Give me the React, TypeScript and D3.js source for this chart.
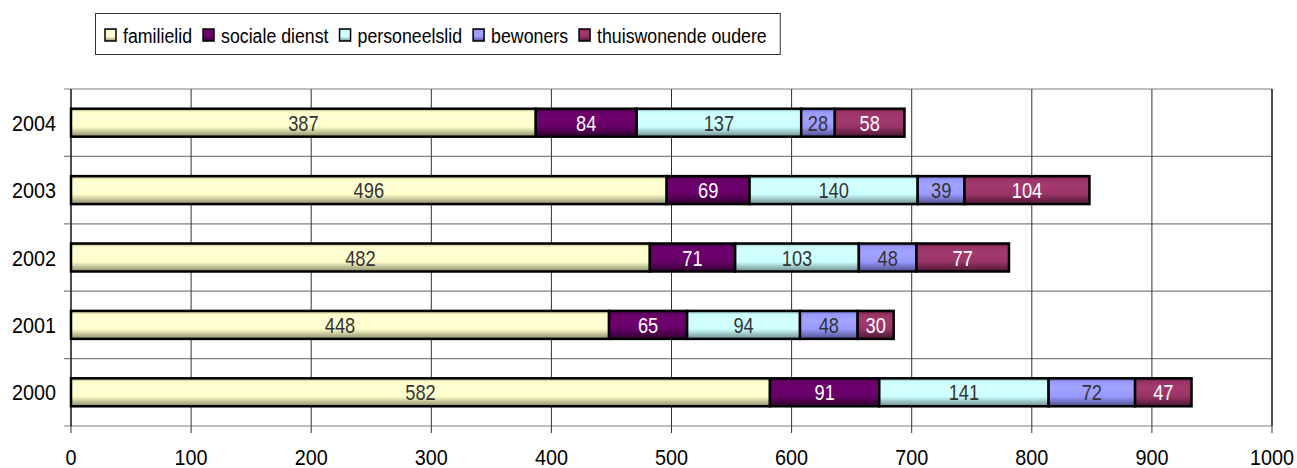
import React, { useMemo } from "react";
import * as d3 from "d3";

// Yearly counts per source category, stacked left to right
const years = ["2004", "2003", "2002", "2001", "2000"];
const seriesNames = ["familielid", "sociale dienst", "personeelslid", "bewoners", "thuiswonende oudere"];
const familielid = [387, 496, 482, 448, 582];
const socialeDienst = [84, 69, 71, 65, 91];
const personeelslid = [137, 140, 103, 94, 141];
const bewoners = [28, 39, 48, 48, 72];
const thuiswonendeOudere = [58, 104, 77, 30, 47];
const xTicks = [0, 100, 200, 300, 400, 500, 600, 700, 800, 900, 1000];

const seriesValues = [familielid, socialeDienst, personeelslid, bewoners, thuiswonendeOudere];

// fill base, top shade, highlight, bottom shade, label colour
const palette = [
  { base: "#FFFFCC", top: "#A3A37E", hi: "#FFFFD4", bot: "#8A8A68", label: "#333333" },
  { base: "#660066", top: "#3A003A", hi: "#700070", bot: "#2E002E", label: "#FFFFFF" },
  { base: "#CCFFFF", top: "#85A6A6", hi: "#D4FFFF", bot: "#6E8C8C", label: "#333333" },
  { base: "#9999FF", top: "#5F5FA3", hi: "#A3A3FF", bot: "#4F4F8A", label: "#333333" },
  { base: "#993366", top: "#5C1F3D", hi: "#A33A6E", bot: "#4A1832", label: "#FFFFFF" },
];

const W = 1297;
const H = 468;
const plot = { left: 71, right: 1272, top: 89, bottom: 426 };
const font = "'Liberation Sans', Arial, sans-serif";
const NARROW = 0.83; // horizontal squeeze for the condensed bar labels
const LEGEND_NARROW = 0.845;

function measure(text: string, css: string): number {
  const c = document.createElement("canvas").getContext("2d");
  if (!c) return text.length * 10;
  c.font = css;
  return c.measureText(text).width;
}

type TProps = {
  x: number;
  y: number;
  sx: number;
  size: number;
  anchor?: "start" | "middle" | "end";
  fill?: string;
  children: React.ReactNode;
};

function T({ x, y, sx, size, anchor = "start", fill = "#000", children }: TProps) {
  return (
    <text
      transform={`translate(${x},${y}) scale(${sx},1)`}
      textAnchor={anchor}
      fontFamily={font}
      fontSize={size}
      fill={fill}
    >
      {children}
    </text>
  );
}

export default function App() {
  const x = d3.scaleLinear().domain([0, 1000]).range([plot.left, plot.right]);
  const y = d3
    .scaleBand<string>()
    .domain(years)
    .range([plot.top, plot.bottom])
    .paddingInner(0.585)
    .paddingOuter(0.2925);
  const step = y.step();
  const bw = y.bandwidth();

  const rows = years.map((yr, i) => {
    const obj: Record<string, number | string> = { year: yr };
    seriesNames.forEach((s, j) => (obj[s] = seriesValues[j][i]));
    return obj;
  });
  const stacked = d3.stack<Record<string, number | string>>().keys(seriesNames)(rows as any);

  const legendItems = useMemo(() => {
    let cx = 105;
    return seriesNames.map((name) => {
      const w = measure(name, `21px ${font}`) * LEGEND_NARROW;
      const item = { name, sx: cx, tx: cx + 18, w };
      cx = cx + 18 + w + 11;
      return item;
    });
  }, []);
  const last = legendItems[legendItems.length - 1];
  const legendRight = last.tx + last.w + 13;

  const boundaries = d3.range(years.length + 1).map((i) => plot.top + i * step);

  return (
    <svg width={W} height={H} style={{ position: "absolute", left: 0, top: 0, background: "#fff" }}>
      <defs>
        {palette.map((p, i) => (
          <linearGradient key={i} id={`g${i}`} x1="0" y1="0" x2="0" y2="1">
            <stop offset="0" stopColor={p.top} />
            <stop offset="0.12" stopColor={p.base} />
            <stop offset="0.35" stopColor={p.hi} />
            <stop offset="0.65" stopColor={p.base} />
            <stop offset="1" stopColor={p.bot} />
          </linearGradient>
        ))}
      </defs>

      {/* legend */}
      <rect x={95.5} y={13.5} width={legendRight - 95} height={41} fill="#fff" stroke="#333" strokeWidth={1} />
      {legendItems.map((it, i) => (
        <g key={it.name}>
          <rect x={it.sx} y={29} width={11} height={12} fill={`url(#g${i})`} stroke="#000" strokeWidth={1.5} />
          <T x={it.tx} y={43} sx={LEGEND_NARROW} size={21}>
            {it.name}
          </T>
        </g>
      ))}

      {/* category gridlines */}
      {boundaries.map((b, i) => (
        <line key={`h${i}`} x1={plot.left - 7} x2={plot.right} y1={b} y2={b} stroke="#808080" strokeWidth={1.2} />
      ))}
      {/* value gridlines */}
      {xTicks.map((t) => (
        <line key={`v${t}`} x1={x(t)} x2={x(t)} y1={plot.top} y2={plot.bottom + 7} stroke="#333" strokeWidth={1} />
      ))}
      <line x1={plot.left} x2={plot.left} y1={plot.top} y2={plot.bottom} stroke="#333" strokeWidth={1.5} />
      <line x1={plot.right} x2={plot.right} y1={plot.top} y2={plot.bottom} stroke="#333" strokeWidth={1.5} />

      {/* stacked bars */}
      {stacked.map((layer, si) =>
        layer.map((d, ri) => {
          const yr = years[ri];
          const x0 = x(d[0]);
          const x1 = x(d[1]);
          const yy = y(yr) as number;
          const v = seriesValues[si][ri];
          return (
            <g key={`${si}-${ri}`}>
              <rect x={x0} y={yy} width={x1 - x0} height={bw} fill={`url(#g${si})`} stroke="#000" strokeWidth={2.5} />
              <T x={(x0 + x1) / 2} y={yy + bw / 2 + 8} sx={NARROW} size={22} anchor="middle" fill={palette[si].label}>
                {v}
              </T>
            </g>
          );
        })
      )}

      {/* y axis labels */}
      {years.map((yr) => (
        <T key={yr} x={56} y={(y(yr) as number) + bw / 2 + 8} sx={0.9} size={22} anchor="end">
          {yr}
        </T>
      ))}

      {/* x axis labels */}
      {xTicks.map((t) => (
        <T key={`l${t}`} x={x(t)} y={465} sx={0.9} size={22} anchor="middle">
          {t}
        </T>
      ))}
    </svg>
  );
}
